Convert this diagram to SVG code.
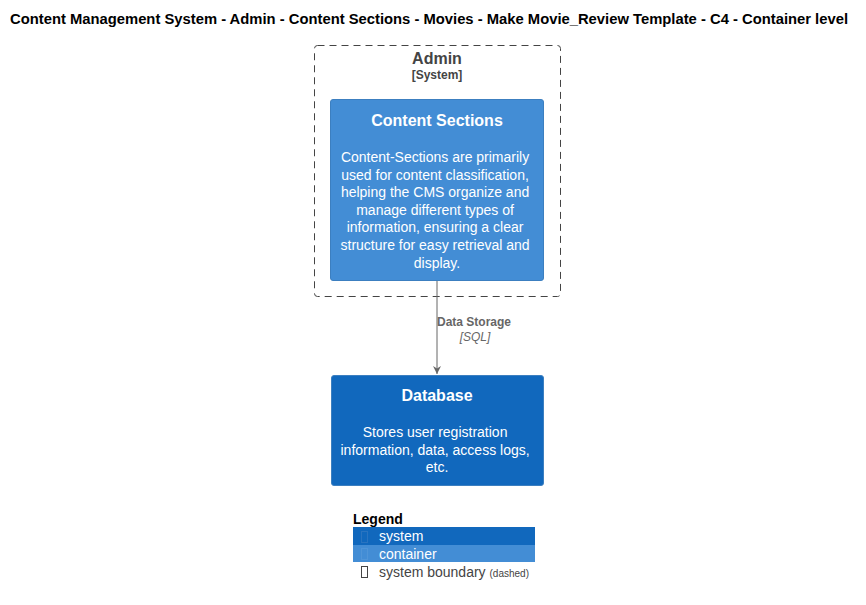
<svg xmlns="http://www.w3.org/2000/svg" width="866" height="605" viewBox="0 0 866 605">
<style>
text{font-family:"Liberation Sans",Arial,sans-serif}
.title{font-size:14px;font-weight:bold;fill:#000}
.bt{font-size:16px;font-weight:bold;fill:#444}
.bs{font-size:12px;font-weight:bold;fill:#444}
.nt{font-size:16px;font-weight:bold;fill:#fff}
.nd{font-size:14px;fill:#fff}
.lbl{font-size:12px;font-weight:bold;fill:#666}
.tech{font-size:12px;font-style:italic;fill:#666}
.lg{font-size:14px;fill:#fff}
.tofu{fill:none;stroke-width:1}
</style>
<defs>
<marker id="arr" viewBox="0 0 10 10" refX="10" refY="5" markerWidth="8" markerHeight="10" markerUnits="userSpaceOnUse" orient="auto">
<path d="M0,0 L10,5 L0,10 L3,5 z" fill="#666"/>
</marker>
</defs>
<text class="title" x="10" y="24" textLength="838" lengthAdjust="spacingAndGlyphs">Content Management System - Admin - Content Sections - Movies - Make Movie_Review Template - C4 - Container level</text>
<g id="admin-boundary">
<rect x="314.5" y="45.5" width="246" height="251" rx="3" fill="none" stroke="#444" stroke-dasharray="7,5"/>
<text class="bt" x="437" y="64" text-anchor="middle">Admin</text>
<text class="bs" x="437" y="79" text-anchor="middle">[System]</text>
</g>
<g id="content-sections">
<rect x="330.5" y="99.5" width="213" height="181" rx="2.5" fill="#438DD5" stroke="#3C7FC0"/>
<text class="nt" x="437" y="126" text-anchor="middle">Content Sections</text>
<text class="nd" text-anchor="middle">
<tspan x="437" y="162">Content-Sections are primarily</tspan>
<tspan x="437" y="179.6">used for content classification,</tspan>
<tspan x="437" y="197.2">helping the CMS organize and</tspan>
<tspan x="437" y="214.8">manage different types of</tspan>
<tspan x="437" y="232.4">information, ensuring a clear</tspan>
<tspan x="437" y="250">structure for easy retrieval and</tspan>
<tspan x="437" y="267.6">display.</tspan>
</text>
</g>
<g id="database">
<rect x="331.5" y="375.5" width="212" height="110" rx="2.5" fill="#1168BD" stroke="#3C7FC0"/>
<text class="nt" x="437" y="401" text-anchor="middle">Database</text>
<text class="nd" text-anchor="middle">
<tspan x="437" y="437">Stores user registration</tspan>
<tspan x="437" y="454.6">information, data, access logs,</tspan>
<tspan x="437" y="472.2">etc.</tspan>
</text>
</g>
<g id="connectors">
<line x1="437" y1="281" x2="437" y2="374" stroke="#666" stroke-width="1" marker-end="url(#arr)"/>
<text class="lbl" x="437" y="326">Data Storage</text>
<text class="tech" x="475" y="341" text-anchor="middle">[SQL]</text>
</g>
<g id="legend">
<text x="353" y="524" style="font-size:14px;font-weight:bold;fill:#000">Legend</text>
<rect x="353" y="527" width="182" height="18" fill="#1168BD"/>
<rect x="361.5" y="531.5" width="6" height="11" class="tofu" stroke="#2a74c0"/>
<text class="lg" x="379" y="541">system</text>
<rect x="353" y="545" width="182" height="17" fill="#438DD5"/>
<rect x="361.5" y="548.5" width="6" height="11" class="tofu" stroke="#5095d8"/>
<text class="lg" x="379" y="559">container</text>
<rect x="361.5" y="566.5" width="6" height="11" class="tofu" stroke="#444"/>
<text x="379" y="577" style="font-size:14px;fill:#444">system boundary <tspan style="font-size:10px">(dashed)</tspan></text>
</g>
</svg>
